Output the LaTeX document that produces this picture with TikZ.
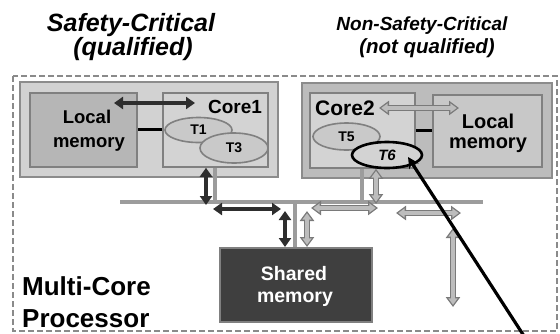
\documentclass[tikz,border=0pt]{standalone}
\usepackage{fontspec}
\setmainfont{Liberation Sans}
\usetikzlibrary{arrows.meta,calc,shapes.geometric}

\definecolor{dashgray}{HTML}{8A8A8A}
\definecolor{grpleft}{HTML}{D2D2D2}
\definecolor{grpright}{HTML}{BCBCBC}
\definecolor{grpedge}{HTML}{8C8C8C}
\definecolor{memfill}{HTML}{B6B6B6}
\definecolor{corefill}{HTML}{D3D3D3}
\definecolor{boxedge}{HTML}{808080}
\definecolor{taskfill}{HTML}{C9C9C9}
\definecolor{busgray}{HTML}{9C9C9C}
\definecolor{arrowedge}{HTML}{7A7A7A}
\definecolor{arrowfill}{HTML}{BDBDBD}
\definecolor{darkarrow}{HTML}{2E2E2E}
\definecolor{sharedfill}{HTML}{3F3F3F}

\tikzset{
  grpbox/.style={draw=grpedge, line width=2.8pt, inner sep=0pt},
  membox/.style={draw=boxedge, line width=2pt, fill=memfill, inner sep=0pt},
  corebox/.style={draw=boxedge, line width=1.6pt, fill=corefill, inner sep=0pt},
  boxtext/.style={font=\bfseries\fontsize{#1}{#1}\selectfont, inner sep=0pt, anchor=base},
  task/.style={ellipse, draw=boxedge, line width=1.6pt, fill=taskfill, inner sep=0pt,
    font=\bfseries\fontsize{14}{16}\selectfont},
  headtext/.style={font=\bfseries\itshape\fontsize{#1}{#1}\selectfont, inner sep=0pt, anchor=base},
  busline/.style={draw=busgray, line width=4.5pt},
  tapline/.style={draw=busgray, line width=3.5pt},
  linkline/.style={draw=black, line width=3pt},
  darkdbl/.style={draw=darkarrow, line width=4pt,
    {Triangle[width=12pt,length=9pt]}-{Triangle[width=12pt,length=9pt]}},
  lightdbl/.style={draw=arrowedge, line width=6pt,
    {Triangle[width=14pt,length=10pt]}-{Triangle[width=14pt,length=10pt]},
    postaction={draw=arrowfill, line width=3.2pt, shorten <=2.2pt, shorten >=2.2pt,
      {Triangle[width=9pt,length=6.5pt]}-{Triangle[width=9pt,length=6.5pt]}}},
}

\begin{document}
\begin{tikzpicture}[x=1pt,y=-1pt]
  \useasboundingbox (0,0) rectangle (560,333);

  % column headings
  \node[headtext=25] (hsc1) at (131,31) {Safety-Critical};
  \node[headtext=25] (hsc2) at (133,55) {(qualified)};
  \node[headtext=19] (hns1) at (422,30) {Non-Safety-Critical};
  \node[headtext=20.5] (hns2) at (427,53) {(not qualified)};

  % processor boundary
  \draw[dashgray, line width=1.8pt, dash pattern=on 6pt off 3pt] (13,76) rectangle (557,331);
  \node[boxtext=26, anchor=base west] (mcp1) at (22,295) {Multi-Core};
  \node[boxtext=26, anchor=base west] (mcp2) at (22,327) {Processor};

  % safety-critical partition
  \node[grpbox, fill=grpleft, minimum width=258pt, minimum height=95pt] (lgrp) at (149,129.5) {};
  \node[membox, minimum width=107pt, minimum height=74pt] (lmem) at (83.5,130) {};
  \node[boxtext=18.5] (lmemt1) at (87,123) {Local};
  \node[boxtext=18.5] (lmemt2) at (89,147) {memory};
  \node[corebox, minimum width=105pt, minimum height=74pt] (core1) at (215.5,130) {};
  \node[boxtext=19] (c1lab) at (235,113) {Core1};
  \node[task, minimum width=67pt, minimum height=25pt] (t1) at (198.5,130) {T1};
  \node[task, minimum width=68pt, minimum height=30pt] (t3) at (234,148) {T3};

  % non-safety-critical partition
  \node[grpbox, fill=grpright, minimum width=250pt, minimum height=95pt] (rgrp) at (427,130.5) {};
  \node[corebox, minimum width=105pt, minimum height=75pt] (core2) at (362.5,130.5) {};
  \node[membox, fill=memfill!75!white, minimum width=109pt, minimum height=72pt] (rmem) at (487.5,131) {};
  \node[boxtext=20] (rmemt1) at (488,128) {Local};
  \node[boxtext=20] (rmemt2) at (488,148) {memory};
  \node[boxtext=21, anchor=base west] (c2lab) at (315,115) {Core2};
  \node[task, minimum width=67pt, minimum height=27pt] (t5) at (346.5,136.5) {T5};

  % core-to-memory links
  \draw[linkline] (lmem.east |- 0,129) -- (core1.west |- 0,129);
  \draw[linkline] (core2.east |- 0,130) -- (rmem.west |- 0,130);

  % shared memory
  \node[draw=boxedge, line width=2pt, fill=sharedfill, inner sep=0pt,
    minimum width=152pt, minimum height=74pt] (shm) at (296,285) {};
  \node[boxtext=19.5, text=white] (shmt1) at (294,280) {Shared};
  \node[boxtext=19.5, text=white] (shmt2) at (295,302) {memory};

  % interconnect bus
  \coordinate (busL) at (120,202);
  \coordinate (busR) at (483,202);
  \draw[busline] (busL) -- (busR);
  \draw[tapline] (core1.south -| 215,0) -- (215,202);
  \draw[tapline] (core2.south -| 362,0) -- (362,202);
  \draw[tapline] (295,202) -- (shm.north -| 295,0);

  % accesses from the safety-critical core
  \coordinate (d1a) at (114,103);  \coordinate (d1b) at (195,103);
  \draw[darkdbl] (d1a) -- (d1b);
  \draw[darkdbl] (core1.south -| 206,0) -- (206,205);
  \coordinate (d3a) at (213,209);  \coordinate (d3b) at (281,209);
  \draw[darkdbl] (d3a) -- (d3b);
  \draw[darkdbl] (285,211) -- (shm.north -| 285,0);

  % accesses from the non-safety-critical core
  \coordinate (g1a) at (379,108);  \coordinate (g1b) at (459,108);
  \draw[lightdbl] (g1a) -- (g1b);
  \draw[lightdbl] (core2.south -| 376,0) -- (376,204);
  \coordinate (g3a) at (311,208);  \coordinate (g3b) at (378,208);
  \draw[lightdbl] (g3a) -- (g3b);
  \draw[lightdbl] (307,211) -- (shm.north -| 307,0);
  \coordinate (g5a) at (396,213);  \coordinate (g5b) at (461,213);
  \draw[lightdbl] (g5a) -- (g5b);
  \coordinate (g6a) at (453,228);  \coordinate (g6b) at (453,307);
  \draw[lightdbl] (g6a) -- (g6b);

  % highlighted task and pointer
  \node[ellipse, draw=black, line width=2.6pt, fill=corefill, inner sep=0pt,
    minimum width=70pt, minimum height=26pt,
    font=\bfseries\itshape\fontsize{15}{17}\selectfont] (t6) at (387,155) {T6};
  \coordinate (ptr) at (524,336);
  \draw[black, line width=3.2pt, -{Stealth[length=11pt,width=11pt]}]
    (ptr) -- ([xshift=21pt,yshift=-2pt]t6.center);
\end{tikzpicture}
\end{document}
